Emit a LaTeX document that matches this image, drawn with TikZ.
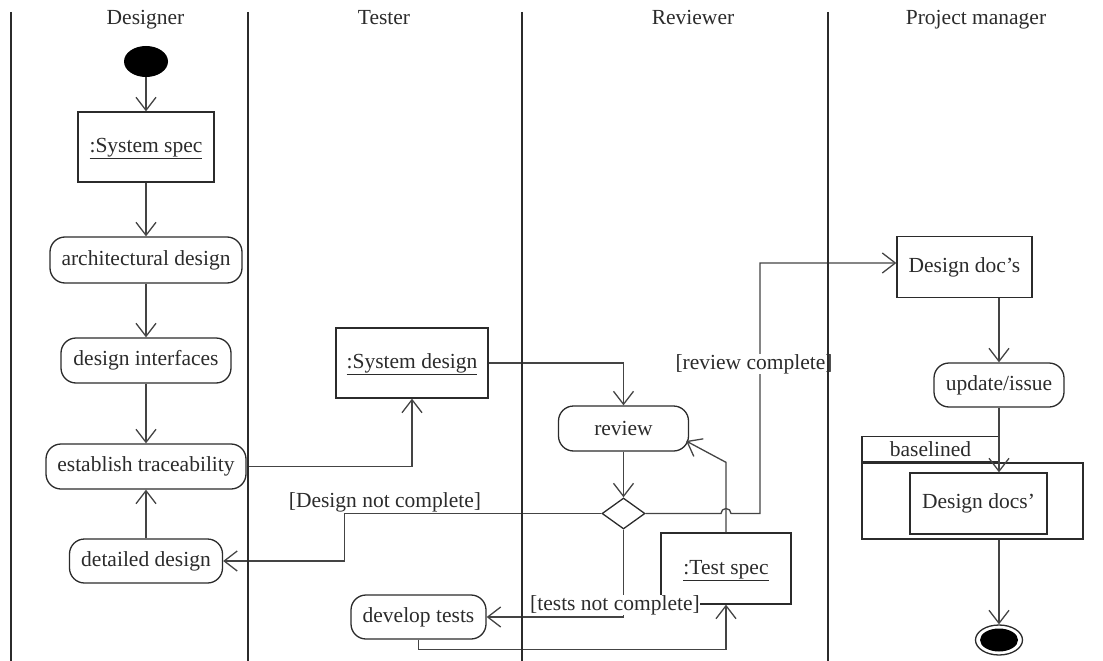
\documentclass[tikz,border=0pt]{standalone}
\usepackage{fontspec}
\setmainfont{Liberation Serif}
\usetikzlibrary{arrows.meta,shapes.geometric,calc}

\definecolor{ink}{HTML}{2B2B2B}
\definecolor{wire}{HTML}{444444}

\begin{document}
\begin{tikzpicture}[x=1pt,y=-1pt,
  font=\fontsize{21.5}{24}\selectfont,
  every node/.style={text=ink},
  action/.style={draw=ink, line width=1.3pt, rounded corners=15pt, inner sep=0pt},
  object/.style={draw=ink, line width=1.3pt, inner sep=0pt},
  instance/.style={object, text height=20pt, text depth=9pt},
  flow/.style={draw=wire, line width=1.3pt,
    -{Straight Barb[length=13pt,width=20pt,line width=1.3pt]}},
  lane/.style={draw=ink, line width=2.6pt},
  guard/.style={fill=white, inner sep=0.5pt},
  header/.style={anchor=base}]

\useasboundingbox (0,0) rectangle (1103,661);

% swimlane titles
\node[header] (hdesigner) at (145.5,25) {Designer};
\node[header] (htester)   at (384,25)   {Tester};
\node[header] (hreviewer) at (693,25)   {Reviewer};
\node[header] (hmanager)  at (976,25)   {Project manager};

% Designer lane
\node[ellipse, fill=black, minimum width=44pt, minimum height=31pt, inner sep=0pt] (start) at (146,61.5) {};
\node[instance, minimum width=136pt, minimum height=70pt] (sysspec) at (146,147) {\underline{:System spec}};
\node[action, minimum width=192pt, minimum height=46pt] (arch) at (146,260) {architectural design};
\node[action, minimum width=170pt, minimum height=45pt] (intf) at (146,360.5) {design interfaces};
\node[action, minimum width=200pt, minimum height=45pt] (trace) at (146,466.5) {establish traceability};
\node[action, minimum width=153pt, minimum height=44pt] (detail) at (146,561) {detailed design};

% Tester lane
\node[instance, minimum width=152pt, minimum height=70pt] (sysdesign) at (412,363) {\underline{:System design}};
\node[action, minimum width=135pt, minimum height=44pt] (devtests) at (418.5,617) {develop tests};

% Reviewer lane
\node[action, minimum width=130pt, minimum height=45pt] (review) at (623.5,428.5) {review};
\node[diamond, draw=ink, line width=1.3pt, minimum width=43pt, minimum height=31pt, inner sep=0pt] (choice) at (623.5,513.5) {};
\node[instance, minimum width=130pt, minimum height=71pt] (testspec) at (726,568.5) {\underline{:Test spec}};

% Project manager lane
\node[object, minimum width=135pt, minimum height=61pt] (docs) at (964.5,267) {Design doc’s};
\node[action, minimum width=130pt, minimum height=44pt] (update) at (999,385) {update/issue};
\node[object, minimum width=221pt, minimum height=76pt] (region) at (972.5,501) {};
\node[object, anchor=south west, minimum width=137pt, minimum height=25pt] (tab) at (region.north west) {baselined};
\node[object, minimum width=137pt, minimum height=61pt] (docsb) at (978.5,503.5) {Design docs’};
\node[ellipse, draw=ink, line width=1.3pt, minimum width=47pt, minimum height=30pt, inner sep=0pt] (finish) at (999,640) {};
\node[ellipse, fill=black, minimum width=38pt, minimum height=23pt, inner sep=0pt] (finishcore) at (finish) {};

% control and object flows
\draw[flow] (start) -- (sysspec);
\draw[flow] (sysspec) -- (arch);
\draw[flow] (arch) -- (intf);
\draw[flow] (intf) -- (trace);
\draw[flow] (detail) -- (trace);
\draw[flow] (trace.east) -| (sysdesign.south);
\draw[flow] (sysdesign.east) -| (review.north);
\draw[flow] (review) -- (choice);
\draw[flow] (choice.west) -- ++(-257,0) |- (detail.east);
\draw[flow] (choice.east) -- (721,513.5) arc[start angle=180, end angle=0, radius=5pt]
  -- (760,513.5) |- ($(docs.west)+(0,-4)$);
\draw[flow] (choice.south) |- (devtests.east);
\draw[flow] (devtests.south) -- ++(0,10) -| (testspec.south);
\draw[flow] (testspec.north) -- ++(0,-70) -- ($(review.east)+(-3,12.5)$);
\draw[flow] (docs.south -| update.north) -- (update.north);
\draw[flow] (update.south) -- (update.south |- docsb.north);
\draw[flow] (region.south -| finish.north) -- (finish.north);

% guards
\node[anchor=base] (gdesign) at (385,507) {[Design not complete]};
\node[guard] (greview) at (754,364) {[review complete]};
\node[guard] (gtests) at (615,605) {[tests not complete]};

% swimlane separators
\draw[lane] (11,12) -- (11,661);
\draw[lane] (248,12) -- (248,661);
\draw[lane] (522,12) -- (522,661);
\draw[lane] (828,12) -- (828,661);
\end{tikzpicture}
\end{document}
